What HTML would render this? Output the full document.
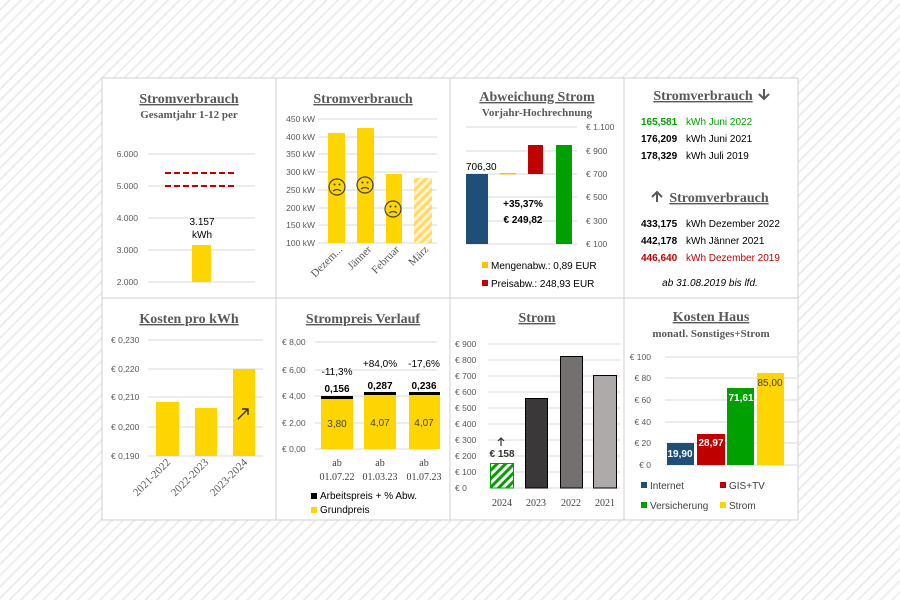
<!DOCTYPE html>
<html><head><meta charset="utf-8"><style>
html,body{margin:0;padding:0;width:900px;height:600px;overflow:hidden;
background:repeating-linear-gradient(135deg,#fff 0 6px,#ededed 6px 8px);}
svg{position:absolute;left:0;top:0}
.t{font-family:"Liberation Serif",serif;font-weight:bold;fill:#595959;font-size:14px;text-anchor:middle;text-decoration:underline}
.st{font-family:"Liberation Serif",serif;font-weight:bold;fill:#595959;font-size:11px;text-anchor:middle}
.ax{font-family:"Liberation Sans",sans-serif;fill:#595959;font-size:8.5px}
.s{font-family:"Liberation Sans",sans-serif;font-size:10px}
.g{stroke:#d9d9d9;stroke-width:1}
</style></head><body>
<svg width="900" height="600" xmlns="http://www.w3.org/2000/svg">
<defs>
<pattern id="hy" width="6" height="6" patternUnits="userSpaceOnUse" patternTransform="rotate(45)"><rect width="6" height="6" fill="#fff2cc"/><rect width="3" height="6" fill="#ffd966"/></pattern>
<pattern id="hg" width="6" height="6" patternUnits="userSpaceOnUse" patternTransform="rotate(45)"><rect width="6" height="6" fill="#fff"/><rect width="3" height="6" fill="#00a000"/></pattern>
</defs>
<rect x="102" y="78" width="696" height="442" fill="#fff" stroke="#d0d0d0"/>
<g stroke="#d0d0d0"><line x1="276" y1="78" x2="276" y2="520"/><line x1="450" y1="78" x2="450" y2="520"/><line x1="624" y1="78" x2="624" y2="520"/><line x1="102" y1="298" x2="798" y2="298"/></g>

<!-- Panel 1 -->
<text class="t" x="189" y="103">Stromverbrauch</text>
<text class="st" x="189" y="118">Gesamtjahr 1-12 per</text>
<g class="g"><line x1="148" y1="154" x2="255" y2="154"/><line x1="148" y1="186" x2="255" y2="186"/><line x1="148" y1="218" x2="255" y2="218"/><line x1="148" y1="250" x2="255" y2="250"/><line x1="148" y1="282" x2="255" y2="282"/></g>
<g class="ax" font-size="9.5" text-anchor="end"><text x="138" y="157">6.000</text><text x="138" y="189">5.000</text><text x="138" y="221">4.000</text><text x="138" y="253">3.000</text><text x="138" y="285">2.000</text></g>
<g stroke="#c00000" stroke-width="2" stroke-dasharray="6,3"><line x1="165" y1="173" x2="236" y2="173"/><line x1="165" y1="186" x2="236" y2="186"/></g>
<rect x="192" y="245" width="19" height="37" fill="#ffd500"/>
<text class="s" x="202" y="225" text-anchor="middle" font-size="9.5">3.157</text>
<text class="s" x="202" y="238" text-anchor="middle" font-size="9.5">kWh</text>

<!-- Panel 2 -->
<text class="t" x="363" y="103">Stromverbrauch</text>
<g class="g">
<line x1="318" y1="119" x2="437" y2="119"/><line x1="318" y1="137" x2="437" y2="137"/><line x1="318" y1="154" x2="437" y2="154"/><line x1="318" y1="172" x2="437" y2="172"/><line x1="318" y1="190" x2="437" y2="190"/><line x1="318" y1="208" x2="437" y2="208"/><line x1="318" y1="225" x2="437" y2="225"/><line x1="318" y1="243" x2="437" y2="243"/></g>
<g class="ax" text-anchor="end"><text x="315" y="122">450 kW</text><text x="315" y="140">400 kW</text><text x="315" y="157">350 kW</text><text x="315" y="175">300 kW</text><text x="315" y="193">250 kW</text><text x="315" y="211">200 kW</text><text x="315" y="228">150 kW</text><text x="315" y="246">100 kW</text></g>
<rect x="328" y="133" width="17" height="110" fill="#ffd500"/>
<rect x="357" y="128" width="17" height="115" fill="#ffd500"/>
<rect x="386" y="174" width="16" height="69" fill="#ffd500"/>
<rect x="414" y="178" width="18" height="65" fill="url(#hy)"/>
<g fill="none" stroke="#404040" stroke-width="1.2">
<circle cx="337" cy="187" r="8"/><circle cx="365" cy="185" r="8"/><circle cx="393" cy="209" r="8"/>
<path d="M333 191q4-3 8 0M361 189q4-3 8 0M389 213q4-3 8 0"/></g>
<g fill="#404040"><circle cx="334.5" cy="184.5" r="1"/><circle cx="339.5" cy="184.5" r="1"/><circle cx="362.5" cy="182.5" r="1"/><circle cx="367.5" cy="182.5" r="1"/><circle cx="390.5" cy="206.5" r="1"/><circle cx="395.5" cy="206.5" r="1"/></g>
<g font-family="Liberation Serif,serif" font-size="11" fill="#595959" text-anchor="end">
<text transform="translate(343,250) rotate(-45)">Dezem...</text>
<text transform="translate(372,250) rotate(-45)">Jänner</text>
<text transform="translate(400,250) rotate(-45)">Februar</text>
<text transform="translate(429,250) rotate(-45)">März</text></g>

<!-- Panel 3 -->
<text class="t" x="537" y="101">Abweichung Strom</text>
<text class="st" x="537" y="116">Vorjahr-Hochrechnung</text>
<g class="g"><line x1="466" y1="127" x2="577" y2="127"/><line x1="466" y1="151" x2="577" y2="151"/><line x1="466" y1="174" x2="577" y2="174"/><line x1="466" y1="197" x2="577" y2="197"/><line x1="466" y1="221" x2="577" y2="221"/><line x1="466" y1="244" x2="577" y2="244"/></g>
<g class="ax"><text x="586" y="130">€ 1.100</text><text x="586" y="154">€ 900</text><text x="586" y="177">€ 700</text><text x="586" y="200">€ 500</text><text x="586" y="224">€ 300</text><text x="586" y="247">€ 100</text></g>
<rect x="466" y="174" width="22" height="70" fill="#1f4e79"/>
<rect x="500" y="173" width="16" height="1.5" fill="#ffc000"/>
<rect x="528" y="145" width="15" height="29" fill="#c00000"/>
<rect x="556" y="145" width="16" height="99" fill="#00a000"/>
<text class="s" x="466" y="170">706,30</text>
<text class="s" x="523" y="207" text-anchor="middle" font-weight="bold">+35,37%</text>
<text class="s" x="523" y="223" text-anchor="middle" font-weight="bold">€ 249,82</text>
<rect x="482" y="262" width="6" height="6" fill="#ffc000"/><text class="s" x="491" y="269" font-size="9">Mengenabw.: 0,89 EUR</text>
<rect x="482" y="280" width="6" height="6" fill="#c00000"/><text class="s" x="491" y="287" font-size="9">Preisabw.: 248,93 EUR</text>

<!-- Panel 4 -->
<text class="t" x="703" y="100">Stromverbrauch</text>
<path d="M764 89v10M759 94l5 5 5-5" stroke="#595959" stroke-width="2" fill="none"/>
<g class="s" font-size="11" fill="#000">
<text x="641" y="125" fill="#00a000"><tspan font-weight="bold">165,581</tspan><tspan x="686">kWh Juni 2022</tspan></text>
<text x="641" y="142"><tspan font-weight="bold">176,209</tspan><tspan x="686">kWh Juni 2021</tspan></text>
<text x="641" y="159"><tspan font-weight="bold">178,329</tspan><tspan x="686">kWh Juli 2019</tspan></text>
<text x="641" y="227"><tspan font-weight="bold">433,175</tspan><tspan x="686">kWh Dezember 2022</tspan></text>
<text x="641" y="244"><tspan font-weight="bold">442,178</tspan><tspan x="686">kWh Jänner 2021</tspan></text>
<text x="641" y="261" fill="#c00000"><tspan font-weight="bold">446,640</tspan><tspan x="686">kWh Dezember 2019</tspan></text></g>
<path d="M657 202v-10M652 197l5-5 5 5" stroke="#595959" stroke-width="2" fill="none"/>
<text class="t" x="719" y="202">Stromverbrauch</text>
<text class="s" x="710" y="286" text-anchor="middle" font-style="italic" font-size="9">ab 31.08.2019 bis lfd.</text>

<!-- Panel 5 -->
<text class="t" x="189" y="323">Kosten pro kWh</text>
<g class="g"><line x1="148" y1="340" x2="263" y2="340"/><line x1="148" y1="369" x2="263" y2="369"/><line x1="148" y1="397" x2="263" y2="397"/><line x1="148" y1="427" x2="263" y2="427"/><line x1="148" y1="456" x2="263" y2="456"/></g>
<g class="ax"><text x="111" y="343">€ 0,230</text><text x="111" y="372">€ 0,220</text><text x="111" y="400">€ 0,210</text><text x="111" y="430">€ 0,200</text><text x="111" y="459">€ 0,190</text></g>
<rect x="156" y="402" width="23" height="54" fill="#ffd500"/>
<rect x="195" y="408" width="22" height="48" fill="#ffd500"/>
<rect x="233" y="369" width="22" height="87" fill="#ffd500"/>
<path d="M238 419l10-10M242 409h6v6" stroke="#333" stroke-width="1.4" fill="none"/>
<g font-family="Liberation Serif,serif" font-size="11" fill="#595959" text-anchor="end">
<text transform="translate(171,463) rotate(-45)">2021-2022</text>
<text transform="translate(209,463) rotate(-45)">2022-2023</text>
<text transform="translate(248,463) rotate(-45)">2023-2024</text></g>

<!-- Panel 6 -->
<text class="t" x="363" y="323">Strompreis Verlauf</text>
<g class="g"><line x1="315" y1="342" x2="437" y2="342"/><line x1="315" y1="370" x2="437" y2="370"/><line x1="315" y1="396" x2="437" y2="396"/><line x1="315" y1="423" x2="437" y2="423"/><line x1="315" y1="449" x2="437" y2="449"/></g>
<g class="ax"><text x="282" y="345">€ 8,00</text><text x="282" y="373">€ 6,00</text><text x="282" y="399">€ 4,00</text><text x="282" y="426">€ 2,00</text><text x="282" y="452">€ 0,00</text></g>
<rect x="321" y="398" width="32" height="51" fill="#ffd500"/><rect x="321" y="396" width="32" height="3" fill="#000"/>
<rect x="364" y="394" width="32" height="55" fill="#ffd500"/><rect x="364" y="392" width="32" height="3" fill="#000"/>
<rect x="409" y="394" width="31" height="55" fill="#ffd500"/><rect x="409" y="392" width="31" height="3" fill="#000"/>
<g class="s" font-size="9" text-anchor="middle" fill="#000">
<text x="337" y="375">-11,3%</text><text x="380" y="367">+84,0%</text><text x="424" y="367">-17,6%</text>
<text x="337" y="392" font-weight="bold">0,156</text><text x="380" y="389" font-weight="bold">0,287</text><text x="424" y="389" font-weight="bold">0,236</text>
<text x="337" y="427" fill="#404040">3,80</text><text x="380" y="426" fill="#404040">4,07</text><text x="424" y="426" fill="#404040">4,07</text></g>
<g font-family="Liberation Serif,serif" font-size="10" fill="#404040" text-anchor="middle">
<text x="337" y="466">ab</text><text x="380" y="466">ab</text><text x="424" y="466">ab</text>
<text x="337" y="480">01.07.22</text><text x="380" y="480">01.03.23</text><text x="424" y="480">01.07.23</text></g>
<rect x="311" y="493" width="6" height="6" fill="#000"/><text class="s" x="320" y="499" font-size="9">Arbeitspreis + % Abw.</text>
<rect x="311" y="507" width="6" height="6" fill="#ffd500"/><text class="s" x="320" y="513" font-size="9">Grundpreis</text>

<!-- Panel 7 -->
<text class="t" x="537" y="322">Strom</text>
<g class="g"><line x1="488" y1="344" x2="620" y2="344"/><line x1="488" y1="360" x2="620" y2="360"/><line x1="488" y1="376" x2="620" y2="376"/><line x1="488" y1="392" x2="620" y2="392"/><line x1="488" y1="408" x2="620" y2="408"/><line x1="488" y1="424" x2="620" y2="424"/><line x1="488" y1="440" x2="620" y2="440"/><line x1="488" y1="456" x2="620" y2="456"/><line x1="488" y1="472" x2="620" y2="472"/><line x1="488" y1="488" x2="620" y2="488"/></g>
<g class="ax"><text x="455" y="347">€ 900</text><text x="455" y="363">€ 800</text><text x="455" y="379">€ 700</text><text x="455" y="395">€ 600</text><text x="455" y="411">€ 500</text><text x="455" y="427">€ 400</text><text x="455" y="443">€ 300</text><text x="455" y="459">€ 200</text><text x="455" y="475">€ 100</text><text x="455" y="491">€ 0</text></g>
<rect x="490.5" y="463.5" width="23" height="24.5" fill="url(#hg)" stroke="#00a000"/>
<rect x="525.5" y="398.5" width="22" height="89.5" fill="#3a3838" stroke="#000"/>
<rect x="560.5" y="356.5" width="22" height="131.5" fill="#757070" stroke="#000"/>
<rect x="593.5" y="375.5" width="23" height="112.5" fill="#aeaaaa" stroke="#000"/>
<path d="M501 446v-8M498 441l3-3 3 3" stroke="#333" stroke-width="1.2" fill="none"/>
<text class="s" x="502" y="457" text-anchor="middle" font-size="9" font-weight="bold" fill="#333">€ 158</text>
<g font-family="Liberation Serif,serif" font-size="10" fill="#404040" text-anchor="middle"><text x="502" y="506">2024</text><text x="536" y="506">2023</text><text x="571" y="506">2022</text><text x="605" y="506">2021</text></g>

<!-- Panel 8 -->
<text class="t" x="711" y="321">Kosten Haus</text>
<text class="st" x="711" y="337">monatl. Sonstiges+Strom</text>
<g class="g"><line x1="665" y1="357" x2="797" y2="357"/><line x1="665" y1="378" x2="797" y2="378"/><line x1="665" y1="400" x2="797" y2="400"/><line x1="665" y1="422" x2="797" y2="422"/><line x1="665" y1="443" x2="797" y2="443"/><line x1="665" y1="465" x2="797" y2="465"/></g>
<g class="ax" text-anchor="end"><text x="651" y="360">€ 100</text><text x="651" y="381">€ 80</text><text x="651" y="403">€ 60</text><text x="651" y="425">€ 40</text><text x="651" y="446">€ 20</text><text x="651" y="468">€ 0</text></g>
<rect x="667" y="443" width="27" height="22" fill="#1f4e79"/>
<rect x="697" y="434" width="28" height="31" fill="#c00000"/>
<rect x="727" y="388" width="27" height="77" fill="#00a000"/>
<rect x="757" y="373" width="27" height="92" fill="#ffd500"/>
<g class="s" font-size="9" text-anchor="middle" style="fill:#fff" font-weight="bold"><text x="680" y="457">19,90</text><text x="711" y="446">28,97</text><text x="741" y="401">71,61</text><text x="770" y="386" style="fill:#404040" font-weight="normal">85,00</text></g>
<rect x="641" y="482" width="6" height="6" fill="#1f4e79"/><text class="s" x="650" y="489" font-size="9" fill="#404040">Internet</text>
<rect x="720" y="482" width="6" height="6" fill="#c00000"/><text class="s" x="729" y="489" font-size="9" fill="#404040">GIS+TV</text>
<rect x="641" y="502" width="6" height="6" fill="#00a000"/><text class="s" x="650" y="509" font-size="9" fill="#404040">Versicherung</text>
<rect x="720" y="502" width="6" height="6" fill="#ffd500"/><text class="s" x="729" y="509" font-size="9" fill="#404040">Strom</text>
</svg>
</body></html>
